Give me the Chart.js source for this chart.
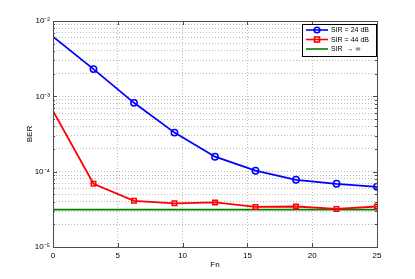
<!DOCTYPE html>
<html>
<head>
<meta charset="utf-8">
<script src="https://cdn.jsdelivr.net/npm/chart.js@4/dist/chart.umd.min.js"></script>
<style>
  html, body { margin: 0; padding: 0; background: #fff; }
  #wrap { width: 415px; height: 279px; }
</style>
</head>
<body>
<div id="wrap"><canvas id="c" width="415" height="279"></canvas></div>
<script>
// --- data ---
const fn = [0, 3.125, 6.25, 9.375, 12.5, 15.625, 18.75, 21.875, 25];
const ber24 = [6.2e-3, 2.3e-3, 8.2e-4, 3.3e-4, 1.58e-4, 1.03e-4, 7.8e-5, 6.9e-5, 6.3e-5];
const ber44 = [6.4e-4, 6.9e-5, 4.1e-5, 3.8e-5, 3.9e-5, 3.4e-5, 3.45e-5, 3.2e-5, 3.45e-5];
const berInf = [3.14e-5, 3.14e-5, 3.14e-5, 3.14e-5, 3.14e-5, 3.14e-5, 3.14e-5, 3.14e-5, 3.14e-5];
const labels = ['SIR = 24 dB', 'SIR = 44 dB', 'SIR  \u2192 \u221e'];
const xTicks = [0, 5, 10, 15, 20, 25];
const yDecades = [1e-5, 1e-4, 1e-3, 1e-2];

const FONT = 'Liberation Sans, Arial, Helvetica, sans-serif';
const sup = { '-': '\u207b', '2': '\u00b2', '3': '\u00b3', '4': '\u2074', '5': '\u2075' };

function pts(ys) {
    return fn.map((x, i) => ({ x: x, y: ys[i] }));
}

// y ticks: decades plus 2..9 minors
const yTicks = [];
yDecades.forEach((d, i) => {
    if (i === yDecades.length - 1) { yTicks.push(d); return; }
    for (let m = 1; m <= 9; m++) yTicks.push(+(m * d).toPrecision(3));
});

// 枠線と内向きの目盛り
const boxPlugin = {
    id: 'boxTicks',
    afterDraw(chart) {
        const { ctx, chartArea: a, scales } = chart;
        ctx.save();
        ctx.strokeStyle = '#4d4d4d';
        ctx.lineWidth = 1;
        ctx.strokeRect(a.left + 0.5, a.top + 0.5, a.right - a.left, a.bottom - a.top);
        ctx.beginPath();
        xTicks.forEach(v => {
            const px = Math.round(scales.x.getPixelForValue(v)) + 0.5;
            ctx.moveTo(px, a.bottom); ctx.lineTo(px, a.bottom - 4);
            ctx.moveTo(px, a.top); ctx.lineTo(px, a.top + 4);
        });
        yTicks.forEach(v => {
            const py = Math.round(scales.y.getPixelForValue(v)) + 0.5;
            const len = yDecades.includes(v) ? 4 : 2;
            ctx.moveTo(a.left, py); ctx.lineTo(a.left + len, py);
            ctx.moveTo(a.right, py); ctx.lineTo(a.right - len, py);
        });
        ctx.stroke();

        // legend box
        const lx = 302, ly = 24, lw = 74, lh = 32;
        ctx.fillStyle = '#fff';
        ctx.fillRect(lx, ly, lw, lh);
        ctx.strokeStyle = '#000';
        ctx.strokeRect(lx + 0.5, ly + 0.5, lw, lh);
        chart.data.datasets.forEach((ds, i) => {
            const y = ly + 6 + i * 9.5;
            ctx.strokeStyle = ds.borderColor;
            ctx.lineWidth = 1.6;
            ctx.beginPath();
            ctx.moveTo(lx + 4, y); ctx.lineTo(lx + 26, y);
            ctx.stroke();
            if (ds.pointStyle === 'circle') {
                ctx.beginPath(); ctx.arc(lx + 15, y, 2.8, 0, Math.PI * 2); ctx.stroke();
            } else if (ds.pointStyle === 'rect') {
                ctx.strokeRect(lx + 12.5, y - 2.5, 5, 5);
            }
            ctx.fillStyle = '#000';
            ctx.font = '7px ' + FONT;
            ctx.textBaseline = 'middle';
            ctx.fillText(ds.label, lx + 29, y + 0.5);
        });
        ctx.restore();
    }
};

const markerRadius = fn.map((x, i) => i === 0 ? 0 : 3.2);

new Chart(document.getElementById('c'), {
    type: 'line',
    data: {
        datasets: [
            {
                label: labels[0], data: pts(ber24),
                borderColor: '#0000ff', backgroundColor: 'rgba(0,0,0,0)',
                borderWidth: 1.8, pointStyle: 'circle', pointRadius: markerRadius,
                pointBorderWidth: 1.5, tension: 0
            },
            {
                label: labels[1], data: pts(ber44),
                borderColor: '#ff0000', backgroundColor: 'rgba(0,0,0,0)',
                borderWidth: 1.8, pointStyle: 'rect', pointRadius: markerRadius,
                pointBorderWidth: 1.5, tension: 0
            },
            {
                label: labels[2], data: pts(berInf),
                borderColor: '#008000', backgroundColor: 'rgba(0,0,0,0)',
                borderWidth: 1.8, pointStyle: false, pointRadius: 0, tension: 0
            }
        ]
    },
    options: {
        responsive: false,
        animation: false,
        layout: { padding: { left: 25, top: 21, right: 38, bottom: 9 } },
        plugins: { legend: { display: false }, tooltip: { enabled: false } },
        scales: {
            x: {
                type: 'linear', min: 0, max: 25,
                afterBuildTicks: s => { s.ticks = xTicks.map(v => ({ value: v })); },
                afterFit: s => { s.height = 23; },
                grid: { color: '#a8a8a8', drawTicks: false, lineWidth: 0.8 },
                border: { display: false, dash: [1, 2] },
                ticks: { color: '#000', font: { family: FONT, size: 8 }, padding: 4, maxRotation: 0 },
                title: { display: true, text: 'Fn', color: '#000', font: { family: FONT, size: 8 }, padding: { top: 0, bottom: 0 } }
            },
            y: {
                type: 'logarithmic', min: 1e-5, max: 1e-2,
                afterBuildTicks: s => { s.ticks = yTicks.map(v => ({ value: v })); },
                afterFit: s => { s.width = 28; },
                grid: { color: '#a8a8a8', drawTicks: false, lineWidth: 0.8 },
                border: { display: false, dash: [1, 2] },
                ticks: {
                    color: '#000', font: { family: FONT, size: 8 }, padding: 3, autoSkip: false,
                    callback: v => {
                        const e = Math.round(Math.log10(v));
                        if (Math.abs(v - Math.pow(10, e)) > 1e-12) return '';
                        return '10' + String(e).split('').map(c => sup[c]).join('');
                    }
                },
                title: { display: true, text: 'BER', color: '#000', font: { family: FONT, size: 8 }, padding: 0 }
            }
        }
    },
    plugins: [boxPlugin]
});
</script>
</body>
</html>
